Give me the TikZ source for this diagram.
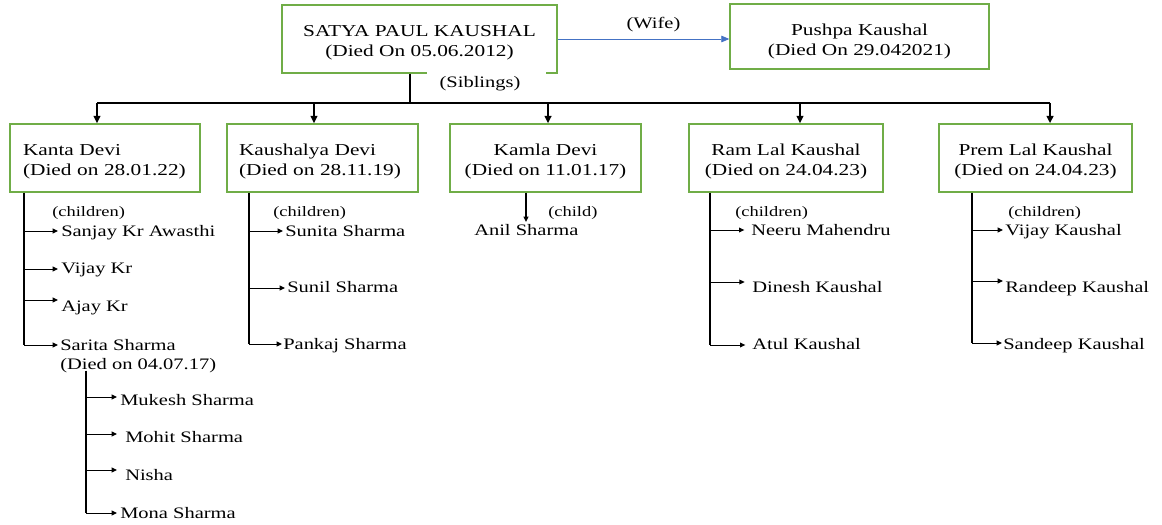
\documentclass[tikz,border=0pt]{standalone}
\usepackage{fontspec}
\setmainfont{Liberation Serif}[FakeStretch=1.28]
\usetikzlibrary{arrows.meta,calc}
\definecolor{boxgreen}{RGB}{112,173,71}
\definecolor{wifeblue}{RGB}{68,114,196}
\newcommand{\topstrut}{\rule{0pt}{14.5pt}}
\begin{document}
\begin{tikzpicture}[x=0.75pt,y=-0.75pt,
  person/.style={draw=boxgreen, line width=1.1pt, inner sep=0pt, align=center,
    minimum height=51pt, font=\fontsize{12.5}{15}\selectfont},
  kid/.style={inner sep=0pt, anchor=base west, font=\fontsize{12}{14.4}\selectfont},
  note/.style={inner sep=0pt, anchor=base west, font=\fontsize{10.8}{12}\selectfont},
  lbl/.style={inner sep=0pt, font=\fontsize{12}{14}\selectfont},
  arr/.style={-{Triangle[length=4pt,width=3.6pt]}, line width=0.75pt},
  downarr/.style={-{Triangle[length=5.5pt,width=5pt]}, line width=1.4pt},
  stem/.style={line width=1.4pt},
  trunk/.style={line width=1.4pt},
  wifearr/.style={-{Triangle[length=6pt,width=5pt]}, draw=wifeblue, line width=0.6pt},
]
\useasboundingbox (0,0) rectangle (1162,524);

% top row
\node[person, minimum width=206.25pt] (satya) at (419.5,39) {\topstrut SATYA PAUL KAUSHAL\\(Died On 05.06.2012)};
\node[person, minimum width=194.25pt, minimum height=48.75pt] (pushpa) at (859.5,36.5) {\rule{0pt}{15.5pt}Pushpa Kaushal\\(Died On 29.042021)};
\draw[wifearr] (satya.east) -- (pushpa.west |- satya.east);
\node[lbl, anchor=base] (wife) at (653.5,29) {(Wife)};

% siblings
\node[person, text width=123pt, inner xsep=9.75pt, align=left] (kanta) at (105,158) {\topstrut Kanta Devi\\(Died on 28.01.22)};
\node[person, text width=125.25pt, inner xsep=9pt, align=left] (kaushalya) at (322.5,158) {\topstrut Kaushalya Devi\\(Died on 28.11.19)};
\node[person, minimum width=143.25pt] (kamla) at (545.5,158) {\topstrut Kamla Devi\\(Died on 11.01.17)};
\node[person, minimum width=145.5pt] (ram) at (786,158) {\topstrut Ram Lal Kaushal\\(Died on 24.04.23)};
\node[person, minimum width=144.75pt] (prem) at (1035.5,158) {\topstrut Prem Lal Kaushal\\(Died on 24.04.23)};

\coordinate (bus) at (410,103);
\draw[trunk] (satya.south -| bus) -- (bus);
\draw[trunk] ([xshift=-6pt]kanta.north |- bus) -- ([xshift=10.9pt]prem.north |- bus);
\draw[downarr] ([xshift=-6pt]kanta.north |- bus) -- ([xshift=-6pt]kanta.north);
\draw[downarr] ([xshift=-6.4pt]kaushalya.north |- bus) -- ([xshift=-6.4pt]kaushalya.north);
\draw[downarr] ([xshift=1.9pt]kamla.north |- bus) -- ([xshift=1.9pt]kamla.north);
\draw[downarr] ([xshift=10.5pt]ram.north |- bus) -- ([xshift=10.5pt]ram.north);
\draw[downarr] ([xshift=10.9pt]prem.north |- bus) -- ([xshift=10.9pt]prem.north);
\node[lbl, fill=white, minimum width=89pt, minimum height=18pt] (sib) at (486.5,84) {(Siblings)\hspace*{9.75pt}};

% Kanta Devi's children
\node[note] (kantac) at (52,216) {(children)};
\coordinate (kv) at ([xshift=11.25pt]kanta.south west);
\node[kid] (sanjay) at (61,236) {Sanjay Kr Awasthi};
\node[kid] (vijay) at (61,273) {Vijay Kr};
\node[kid] (ajay) at (61,311) {Ajay Kr};
\node[kid, anchor=north west, align=left] (sarita) at (60,339) {Sarita Sharma\\(Died on 04.07.17)};
\coordinate (sanjayA) at ([yshift=3.75pt,xshift=-2.25pt]sanjay.base west);
\coordinate (vijayA) at ([yshift=3pt,xshift=-2.25pt]vijay.base west);
\coordinate (ajayA) at ([yshift=8.25pt,xshift=-2.25pt]ajay.base west);
\coordinate (saritaA) at ([yshift=-4.5pt,xshift=-1.5pt]sarita.north west);
\draw[stem] (kv) -- (kv |- saritaA);
\draw[arr] (kv |- sanjayA) -- (sanjayA);
\draw[arr] (kv |- vijayA) -- (vijayA);
\draw[arr] (kv |- ajayA) -- (ajayA);
\draw[arr] (kv |- saritaA) -- (saritaA);

% Sarita Sharma's children
\node[kid] (mukesh) at (120,405) {Mukesh Sharma};
\node[kid] (mohit) at (125,442) {Mohit Sharma};
\node[kid] (nisha) at (125,480) {Nisha};
\node[kid] (mona) at (120,518) {Mona Sharma};
\coordinate (sv) at ([xshift=19.5pt,yshift=2pt]sarita.south west);
\coordinate (mukeshA) at ([yshift=6pt,xshift=-2.25pt]mukesh.base west);
\coordinate (mohitA) at ([yshift=6pt,xshift=-6pt]mohit.base west);
\coordinate (nishaA) at ([yshift=7.5pt,xshift=-6pt]nisha.base west);
\coordinate (monaA) at ([yshift=3.75pt,xshift=-2.25pt]mona.base west);
\draw[stem] (sv) -- (sv |- monaA);
\draw[arr] (sv |- mukeshA) -- (mukeshA);
\draw[arr] (sv |- mohitA) -- (mohitA);
\draw[arr] (sv |- nishaA) -- (nishaA);
\draw[arr] (sv |- monaA) -- (monaA);

% Kaushalya Devi's children
\node[note] (kaushc) at (273,216) {(children)};
\coordinate (kyv) at ([xshift=17.25pt]kaushalya.south west);
\node[kid] (sunita) at (285,236) {Sunita Sharma};
\node[kid] (sunil) at (287,292) {Sunil Sharma};
\node[kid] (pankaj) at (283,349) {Pankaj Sharma};
\coordinate (sunitaA) at ([yshift=3.75pt,xshift=-1.5pt]sunita.base west);
\coordinate (sunilA) at ([yshift=3pt,xshift=-1.5pt]sunil.base west);
\coordinate (pankajA) at ([yshift=3.75pt,xshift=-0.75pt]pankaj.base west);
\draw[stem] (kyv) -- (kyv |- pankajA);
\draw[arr] (kyv |- sunitaA) -- (sunitaA);
\draw[arr] (kyv |- sunilA) -- (sunilA);
\draw[arr] (kyv |- pankajA) -- (pankajA);

% Kamla Devi's child
\node[note] (kamlac) at (548,216) {(child)};
\node[kid] (anil) at (474,235) {Anil Sharma};
\coordinate (anilA) at (526,222);
\draw[arr, line width=1.1pt] (kamla.south -| anilA) -- (anilA);

% Ram Lal Kaushal's children
\node[note] (ramc) at (735,216) {(children)};
\coordinate (rv) at ([xshift=16.5pt]ram.south west);
\node[kid] (neeru) at (751,235) {Neeru Mahendru};
\node[kid] (dinesh) at (752,292) {Dinesh Kaushal};
\node[kid] (atul) at (752,349) {Atul Kaushal};
\coordinate (neeruA) at ([yshift=3.75pt,xshift=-5pt]neeru.base west);
\coordinate (dineshA) at ([yshift=7.5pt,xshift=-5.5pt]dinesh.base west);
\coordinate (atulA) at ([yshift=3pt,xshift=-5pt]atul.base west);
\draw[stem] (rv) -- (rv |- atulA);
\draw[arr] (rv |- neeruA) -- (neeruA);
\draw[arr] (rv |- dineshA) -- (dineshA);
\draw[arr] (rv |- atulA) -- (atulA);

% Prem Lal Kaushal's children
\node[note] (premc) at (1008,216) {(children)};
\coordinate (pv) at ([xshift=25.5pt]prem.south west);
\node[kid] (vijayk) at (1005,235) {Vijay Kaushal};
\node[kid] (randeep) at (1005,292) {Randeep Kaushal};
\node[kid] (sandeep) at (1003,349) {Sandeep Kaushal};
\coordinate (vijaykA) at ([yshift=3.75pt,xshift=-1.5pt]vijayk.base west);
\coordinate (randeepA) at ([yshift=8.25pt,xshift=-1.5pt]randeep.base west);
\coordinate (sandeepA) at ([yshift=4.5pt,xshift=-0.75pt]sandeep.base west);
\draw[stem] (pv) -- (pv |- sandeepA);
\draw[arr] (pv |- vijaykA) -- (vijaykA);
\draw[arr] (pv |- randeepA) -- (randeepA);
\draw[arr] (pv |- sandeepA) -- (sandeepA);
\end{tikzpicture}
\end{document}
